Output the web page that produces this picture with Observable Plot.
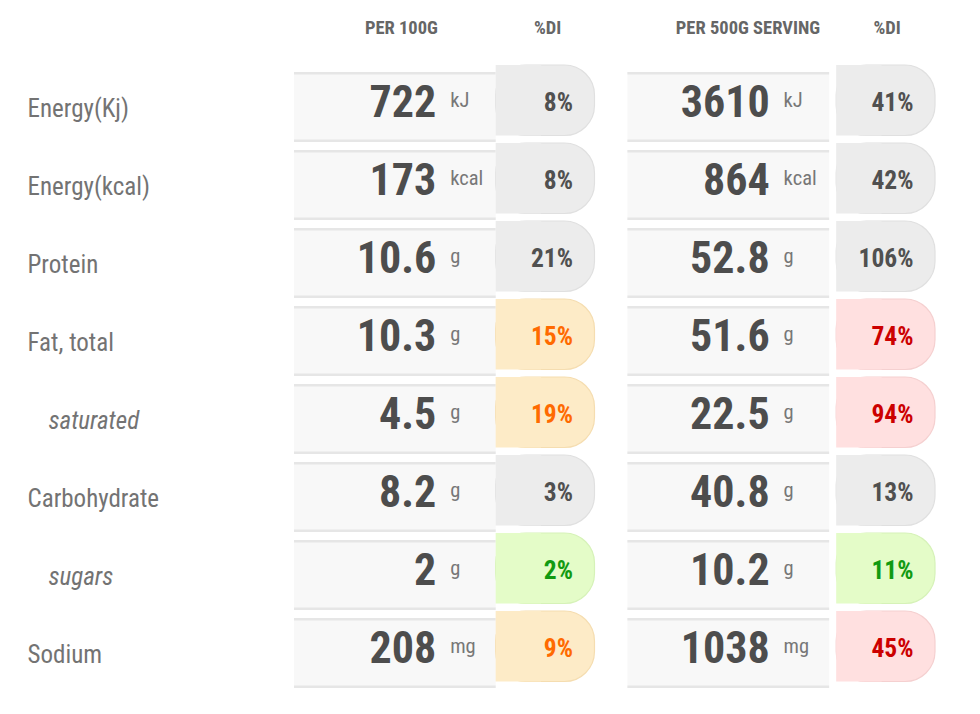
<!DOCTYPE html>
<html>
<head>
<meta charset="utf-8">
<script src="https://cdn.jsdelivr.net/npm/d3@7"></script>
<script src="https://cdn.jsdelivr.net/npm/@observablehq/plot@0.6"></script>
<style>
  html, body { margin: 0; padding: 0; background: #fff; overflow: hidden; }
  #chart { width: 980px; height: 714px; }
</style>
</head>
<body>
<div id="chart"></div>
<script>
// ---- data ----
const nutrients = ["Energy(Kj)", "Energy(kcal)", "Protein", "Fat, total", "saturated", "Carbohydrate", "sugars", "Sodium"];
const subItems = ["saturated", "sugars"];
const units = ["kJ", "kcal", "g", "g", "g", "g", "g", "mg"];
const per100g = [722, 173, 10.6, 10.3, 4.5, 8.2, 2, 208];
const di100g = [8, 8, 21, 15, 19, 3, 2, 9];
const per500g = [3610, 864, 52.8, 51.6, 22.5, 40.8, 10.2, 1038];
const di500g = [41, 42, 106, 74, 94, 13, 11, 45];
const rating100g = ["neutral", "neutral", "neutral", "medium", "medium", "neutral", "low", "medium"];
const rating500g = ["neutral", "neutral", "neutral", "high", "high", "neutral", "low", "high"];
const groupHeaders = ["PER 100G", "PER 500G SERVING"];
const diHeader = "%DI";

// ---- styles / layout (not data) ----
const bgColor = {neutral: "#ececec", low: "#e4fcc8", medium: "#fdebc7", high: "#ffe0e0"};
const edgeColor = {neutral: "#e0e0e0", low: "#d6f2b8", medium: "#f5ddb0", high: "#f5d0d0"};
const textColor = {neutral: "#505050", low: "#119a11", medium: "#ff6a00", high: "#cc0000"};
const groupStart = [0, 3.307];   // column offsets in x units
const valueW = 2, diW = 0.98;
const font = "'Roboto Condensed', Roboto, sans-serif";

const cells = [];
nutrients.forEach((name, i) => {
  cells.push({name, group: 0, start: groupStart[0], value: per100g[i], unit: units[i], di: di100g[i], rating: rating100g[i]});
  cells.push({name, group: 1, start: groupStart[1], value: per500g[i], unit: units[i], di: di500g[i], rating: rating500g[i]});
});
const headers = [
  {text: groupHeaders[0], x: groupStart[0] + 1.06},
  {text: diHeader, x: groupStart[0] + valueW + diW / 2 + 0.02},
  {text: groupHeaders[1], x: groupStart[1] + 1.19},
  {text: diHeader, x: groupStart[1] + valueW + diW / 2 + 0.08}
];
const mainRows = nutrients.filter(n => !subItems.includes(n));
const subRows = nutrients.filter(n => subItems.includes(n));
const diShift = d => (d.group ? 0.07 : 0);

const plot = Plot.plot({
  width: 980,
  height: 714,
  marginTop: 72,
  marginBottom: 26,
  marginLeft: 294,
  marginRight: 45,
  style: {fontFamily: font, background: "white"},
  x: {domain: [0, groupStart[1] + valueW + diW + 0.07], axis: null},
  y: {domain: nutrients, axis: null, paddingInner: 0.1026, paddingOuter: 0},
  color: {type: "identity"},
  marks: [
    // value cells
    Plot.barX(cells, {x1: "start", x2: d => d.start + valueW, y: "name", fill: "#f8f8f8"}),
    Plot.barX(cells, {x1: "start", x2: d => d.start + valueW, y: "name", fill: "#e6e6e6", insetBottom: 67.5}),
    Plot.barX(cells, {x1: "start", x2: d => d.start + valueW, y: "name", fill: "#e6e6e6", insetTop: 67.5}),
    // %DI pills (rounded right side)
    Plot.barX(cells, {x1: d => d.start + valueW + diShift(d), x2: d => d.start + valueW + diW + diShift(d), y: "name",
      fill: d => bgColor[d.rating], stroke: d => edgeColor[d.rating], strokeWidth: 1.2, rx: 30, dy: -6, insetTop: -1, insetBottom: 0.5}),
    Plot.barX(cells, {x1: d => d.start + valueW + diShift(d), x2: d => d.start + valueW + 0.45 + diShift(d), y: "name",
      fill: d => bgColor[d.rating], dy: -6, insetTop: -1, insetBottom: 0.5}),
    // numbers
    Plot.text(cells, {x: d => d.start + valueW, y: "name", text: d => String(d.value), textAnchor: "end", lineAnchor: "bottom",
      dx: -60, dy: 9, fontSize: 44, fontWeight: "bold", fill: "#4d4d4d"}),
    // units
    Plot.text(cells, {x: d => d.start + valueW, y: "name", text: "unit", textAnchor: "start", lineAnchor: "bottom",
      dx: -46, dy: -1, fontSize: 20.5, fill: "#777777"}),
    // %DI values
    Plot.text(cells, {x: d => d.start + valueW + diW + diShift(d), y: "name", text: d => d.di + "%", textAnchor: "end", lineAnchor: "bottom",
      dx: -22, dy: 3, fontSize: 25.5, fontWeight: "bold", fill: d => textColor[d.rating]}),
    // row labels
    Plot.text(mainRows, {y: d => d, text: d => d, frameAnchor: "left", textAnchor: "start", lineAnchor: "bottom",
      dx: -267, dy: 9, fontSize: 25, fill: "#737373"}),
    Plot.text(subRows, {y: d => d, text: d => d, frameAnchor: "left", textAnchor: "start", lineAnchor: "bottom",
      dx: -246, dy: 9, fontSize: 25, fontStyle: "italic", fill: "#737373"}),
    // column headers
    Plot.text(headers, {x: "x", text: "text", frameAnchor: "top", lineAnchor: "bottom", dy: -38.5,
      fontSize: 18.5, fontWeight: "bold", fill: "#666666"})
  ]
});
document.getElementById("chart").appendChild(plot);
</script>
</body>
</html>
